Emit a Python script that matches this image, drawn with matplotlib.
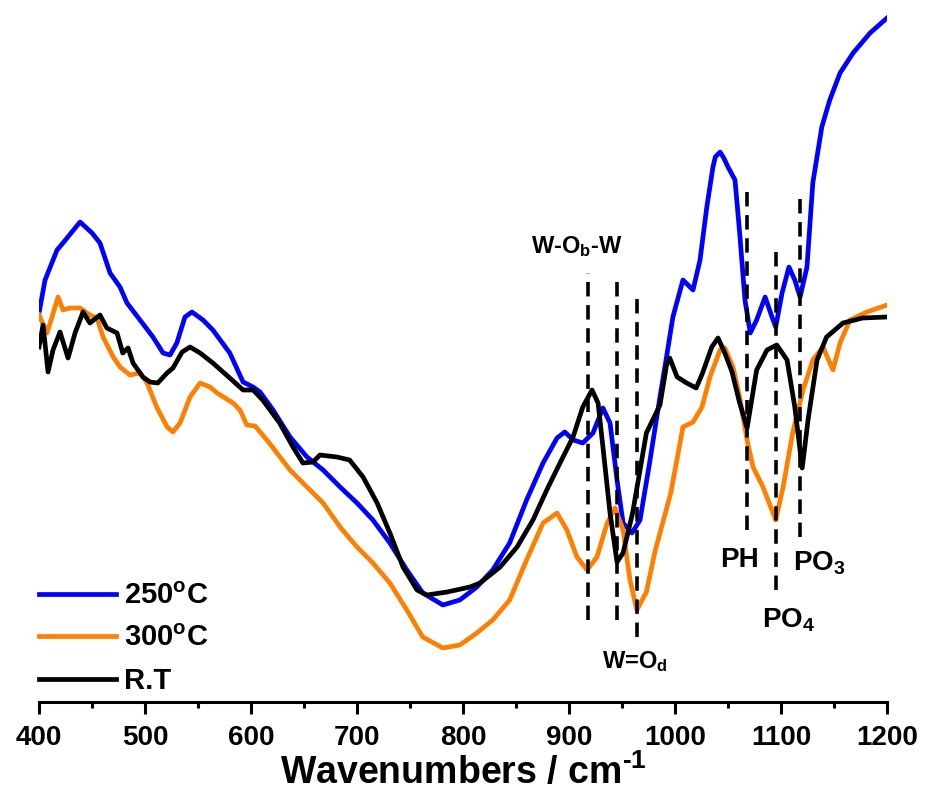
import matplotlib
matplotlib.use('Agg')
import matplotlib.pyplot as plt
from matplotlib.ticker import MultipleLocator

plt.rcParams['font.family'] = ['Liberation Sans', 'DejaVu Sans']
plt.rcParams['font.weight'] = 'bold'
plt.rcParams['axes.labelweight'] = 'bold'
plt.rcParams['axes.unicode_minus'] = False
plt.rcParams['mathtext.fontset'] = 'custom'
plt.rcParams['mathtext.rm'] = 'Liberation Sans:bold'
plt.rcParams['mathtext.bf'] = 'Liberation Sans:bold'
plt.rcParams['mathtext.it'] = 'Liberation Sans:bold'
plt.rcParams['mathtext.default'] = 'bf'

# 250 C sample
wn_250 = [400, 405.7, 417, 422.6, 438.7, 450, 457.5, 467, 476.4, 483, 495.3, 507.5, 517, 523.6,
          530, 537.7, 544.3, 554.7, 564, 580, 592.5, 601.9, 608.5, 620.8, 636.8, 652.8, 668,
          684, 700, 715, 731, 747, 762, 781, 797, 813, 828, 844, 860, 875.5, 888.7, 896, 904,
          913, 922.6, 932, 938.7, 945.3, 951, 959.4, 967, 976, 985.8, 992, 998, 1007.5, 1017,
          1023.6, 1030, 1035.8, 1038, 1042.5, 1046, 1050, 1056.6, 1061, 1066, 1071, 1077, 1085, 1091.5,
          1095, 1101, 1107.5, 1113, 1118, 1124.5, 1130, 1138.5, 1146, 1155.7, 1168, 1184, 1200]
t_250 = [38.9, 42.2, 45.2, 45.9, 48.0, 46.9, 45.9, 42.9, 41.5, 39.9, 38.2, 36.5, 34.9, 34.7,
         35.9, 38.5, 39.0, 38.2, 37.2, 34.9, 32.0, 31.5, 31.0, 29.2, 26.5, 24.5, 23.2,
         21.5, 19.9, 18.2, 15.9, 13.2, 10.9, 9.7, 10.2, 11.5, 13.2, 15.9, 20.2, 23.9, 26.4, 27.0, 26.2,
         25.9, 26.9, 29.4, 27.9, 22.2, 17.9, 16.9, 18.2, 23.9, 30.5, 34.5, 38.5, 42.2, 41.2,
         44.2, 49.5, 53.5, 54.5, 55.0, 54.4, 53.5, 52.2, 46.9, 40.2, 36.9, 38.2, 40.5, 38.5,
         37.5, 40.9, 43.5, 42.2, 40.5, 43.5, 51.9, 57.5, 60.2, 62.9, 64.9, 66.9, 68.4]

# 300 C sample
wn_300 = [400, 407.5, 412.3, 418, 422.6, 429, 438.7, 448, 454.7, 460.4, 470, 476.4, 485.8, 495.3,
          502, 511, 520.8, 526.4, 533, 542.5, 552, 561.3, 568, 583, 589.6, 596, 603.8, 615,
          636.8, 652.8, 668, 684, 700, 715, 731, 747, 762, 781, 797, 813, 828, 844, 860, 875.5,
          888.7, 898, 907.5, 917, 926.4, 936, 943.4, 951, 957.5, 964, 973, 981, 996, 1007.5,
          1017, 1025.5, 1033, 1042.5, 1047, 1054.7, 1061, 1068, 1073.6, 1083, 1095, 1102, 1111,
          1120.8, 1130, 1139.6, 1149, 1155.7, 1165, 1181, 1200]
t_300 = [38.7, 36.9, 38.5, 40.5, 39.2, 39.4, 39.4, 38.7, 38.4, 36.5, 34.5, 33.5, 32.7, 32.9,
         31.9, 29.5, 27.5, 27.0, 27.9, 30.5, 31.9, 31.5, 30.9, 29.9, 29.2, 27.7, 27.6, 26.2,
         23.2, 21.5, 19.9, 17.5, 15.5, 13.9, 11.9, 9.2, 6.5, 5.4, 5.7, 6.9, 8.2, 10.2, 14.2, 17.9,
         18.9, 17.2, 14.5, 13.2, 14.5, 17.9, 19.4, 17.2, 12.2, 9.2, 11.0, 15.0, 20.9, 27.5,
         28.0, 29.5, 32.5, 35.2, 35.4, 33.5, 30.5, 26.2, 23.5, 21.5, 18.2, 21.5, 26.9,
         31.2, 34.2, 35.5, 33.2, 35.9, 38.2, 39.0, 39.7]

# room temperature sample
wn_rt = [400, 403.8, 408.5, 413.2, 419.8, 427.4, 434, 441.5, 448, 457.5, 464, 473.6, 479, 484,
         488.7, 498, 504.7, 512, 520.8, 526.4, 535, 542.5, 552, 564, 580, 592.5, 602, 611, 627,
         639.6, 649, 658.5, 665, 681, 693, 705.7, 719, 731, 743.4, 756.6, 766, 785, 806.6, 816,
         835, 851, 866, 879, 891.5, 903.8, 913, 921.7, 927.4, 932, 938.7, 945.3, 951, 960, 973,
         985.8, 992, 995, 1002, 1011, 1020, 1026, 1034.7, 1040.6, 1047, 1053.8, 1061, 1068,
         1077, 1086.8, 1096, 1105.7, 1113, 1120, 1125.5, 1134, 1143, 1158.5, 1177, 1200]
t_rt = [35.5, 37.7, 33.0, 35.2, 37.0, 34.4, 36.9, 39.0, 37.9, 38.7, 37.4, 36.9, 34.9, 35.4,
        33.9, 32.5, 32.0, 31.9, 32.9, 33.4, 35.0, 35.5, 34.9, 33.9, 32.4, 31.2, 31.2, 30.2, 27.9,
        25.5, 23.9, 24.0, 24.7, 24.5, 24.2, 22.5, 19.9, 16.9, 13.5, 11.2, 10.7, 11.0, 11.5, 11.9,
        13.5, 15.5, 18.2, 21.2, 23.9, 26.5, 29.5, 31.2, 29.9, 25.5, 18.9, 14.0, 14.9, 18.9, 26.9,
        29.7, 33.7, 34.4, 32.5, 31.9, 31.4, 32.9, 35.5, 36.4, 34.9, 33.0, 29.9, 27.4,
        33.2, 35.2, 35.7, 34.2, 29.5, 23.4, 28.2, 34.2, 36.5, 37.9, 38.4, 38.5]

# band markers (position, top, bottom)
band_pos = [918, 945, 964, 1068, 1095, 1118]
band_top = [42.9, 42.5, 41.0, 51.7, 45.8, 51.0]
band_bot = [8.2, 8.2, 6.5, 17.2, 11.2, 16.5]

fig = plt.figure(figsize=(9.29, 7.98), dpi=100)
ax = fig.add_axes([0.042, 0.1203, 0.9128, 0.8797])

ax.plot(wn_250, t_250, color='#0000ff', lw=3.4, label='250$^{\\mathbf{o}}$C', solid_joinstyle='round')
ax.plot(wn_300, t_300, color='#ff8000', lw=3.4, label='300$^{\\mathbf{o}}$C', solid_joinstyle='round')
ax.plot(wn_rt, t_rt, color='black', lw=3.4, label='R.T', solid_joinstyle='round')

ax.vlines(band_pos, band_bot, band_top, colors='black', lw=2.6, linestyles=(0, (4.0, 2.4)))

ax.text(907.5, 44.9, 'W-O$_\\mathbf{b}$-W', fontsize=17, ha='center', va='baseline')
ax.text(931, 3.4, 'W=O$_\\mathbf{d}$', fontsize=17, ha='left', va='baseline')
ax.text(1061, 13.5, 'PH', fontsize=20, ha='center', va='baseline')
ax.text(1111, 13.2, 'PO$_\\mathbf{3}$', fontsize=20, ha='left', va='baseline')
ax.text(1082, 7.5, 'PO$_\\mathbf{4}$', fontsize=20, ha='left', va='baseline')

ax.set_xlim(400, 1200)
ax.set_ylim(0, 70.2)
ax.xaxis.set_major_locator(MultipleLocator(100))
ax.xaxis.set_minor_locator(MultipleLocator(50))
ax.tick_params(axis='x', which='major', direction='out', length=8.6, width=2.2,
               labelsize=20, pad=8)
ax.tick_params(axis='x', which='minor', direction='out', length=4.3, width=2.2)
ax.set_yticks([])
for s in ['left', 'right', 'top']:
    ax.spines[s].set_visible(False)
ax.spines['bottom'].set_linewidth(2.2)
ax.set_xlabel('Wavenumbers / cm$^{\\text{-1}}$', fontsize=27, fontweight='bold', labelpad=2)

ax.legend(loc='lower left', bbox_to_anchor=(0.0, 0.01), frameon=False, fontsize=21,
          handlelength=2.65, handletextpad=0.28, labelspacing=0.5, borderpad=0,
          borderaxespad=0)

fig.savefig('out.png', dpi=100)
